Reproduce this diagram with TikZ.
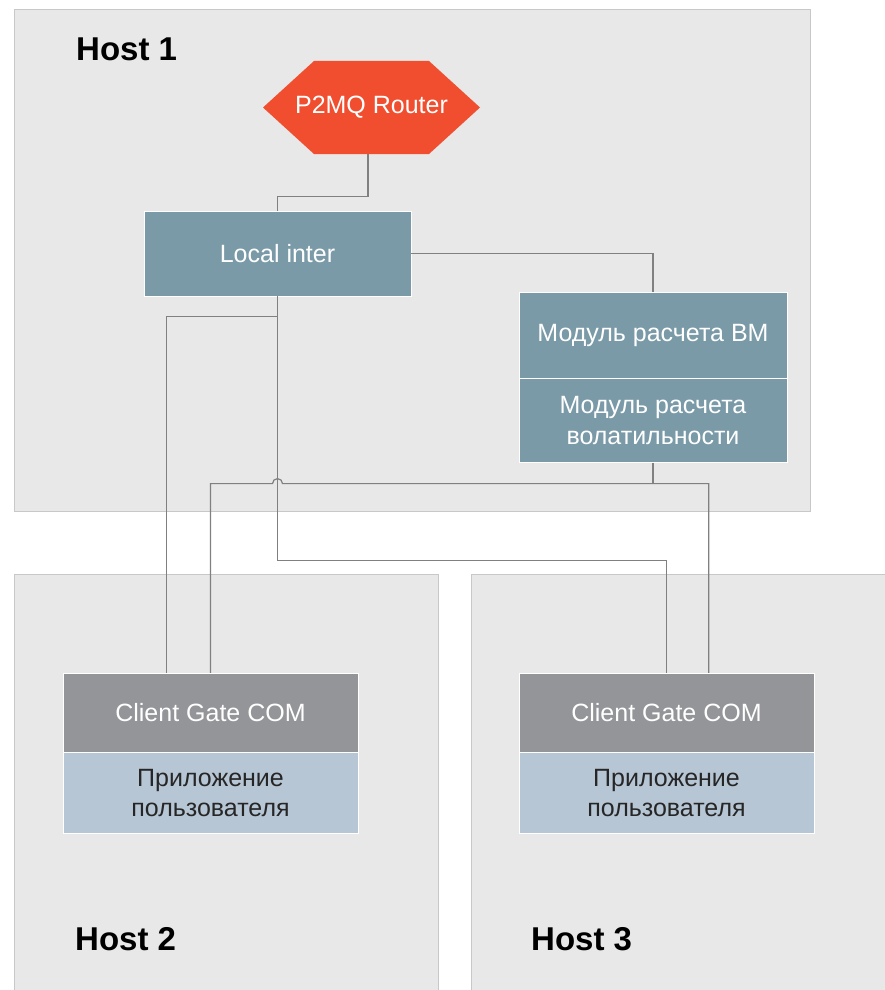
\documentclass[tikz,border=0pt]{standalone}
\usepackage{fontspec}
\setmainfont{Liberation Sans}
\usetikzlibrary{positioning}

\definecolor{hostfill}{HTML}{E8E8E8}
\definecolor{hostedge}{HTML}{C8C8C8}
\definecolor{modblue}{HTML}{7A9AA8}
\definecolor{gategray}{HTML}{939598}
\definecolor{appblue}{HTML}{B7C6D5}
\definecolor{routerred}{HTML}{F04E2E}
\definecolor{linegray}{HTML}{808080}

\begin{document}
\begin{tikzpicture}[x=1pt, y=1pt,
  host/.style = {draw=hostedge, fill=hostfill, anchor=north west, inner sep=0pt},
  hostlabel/.style = {anchor=base west, inner sep=0pt, font=\bfseries\fontsize{33}{40}\selectfont},
  block/.style = {draw=white, fill=modblue, text=white, align=center, inner sep=0pt, font=\fontsize{25}{31}\selectfont},
  gateblock/.style = {block, fill=gategray, minimum width=295pt, minimum height=79pt},
  appblock/.style = {block, fill=appblue, text=black!85, minimum width=295pt, minimum height=81pt, font=\fontsize{25}{30}\selectfont},
  router/.style = {fill=hostfill, text=white, inner sep=0pt, minimum width=217pt, minimum height=93pt, font=\fontsize{25}{31}\selectfont,
    path picture={\fill[routerred] ([xshift=51pt]path picture bounding box.north west) -- ([xshift=-51pt]path picture bounding box.north east)
      -- (path picture bounding box.east) -- ([xshift=-51pt]path picture bounding box.south east)
      -- ([xshift=51pt]path picture bounding box.south west) -- (path picture bounding box.west) -- cycle;}},
  link/.style = {draw=linegray, line width=1.2pt}]

    \useasboundingbox (0,0) rectangle (884,-990);

    % hosts
    \node[host, minimum width=796pt, minimum height=502pt] (host1) at (14,-9) {};
    \node[host, minimum width=424pt, minimum height=430pt] (host2) at (14,-574) {};
    \node[host, minimum width=430pt, minimum height=430pt] (host3) at (471,-574) {};
    \node[hostlabel] (h1) at (76,-61) {Host 1};
    \node[hostlabel] (h2) at (75,-950) {Host 2};
    \node[hostlabel] (h3) at (531,-950) {Host 3};

    % host 1
    \node[router] (router) at (371.5,-107.5) {P2MQ Router};
    \node[block, minimum width=267pt, minimum height=85pt] (local) at (277.5,-253.5) {Local inter};
    \node[block, minimum width=268pt, minimum height=86pt] (modvm) at (653,-335) {Модуль расчета ВМ};
    \node[block, minimum width=268pt, minimum height=84pt, below=0pt of modvm] (modvol) {Модуль расчета\\волатильности};

    % hosts 2 and 3
    \node[gateblock] (gate2) at (210.5,-712.5) {Client Gate COM};
    \node[appblock, below=0pt of gate2] (app2) {Приложение\\пользователя};
    \node[gateblock] (gate3) at (666.5,-712.5) {Client Gate COM};
    \node[appblock, below=0pt of gate3] (app3) {Приложение\\пользователя};

    % links
    \draw[link] ([xshift=-3.5pt]router.south) -- ++(0,-42) -| (local.north);
    \draw[link] (local.east) -| (modvm.north);
    \draw[link] (local.south) -- ++(0,-20) -| ([xshift=104pt]gate2.north west);
    \draw[link] (local.south) -- ++(0,-264) -| (gate3.north);
    \draw[link] (modvol.south) -- ++(0,-21) coordinate (bus);
    \draw[link] ([xshift=190pt]gate3.north west) |- (bus) -- ([xshift=5pt]local.south |- bus)
      arc[start angle=0, end angle=180, radius=5] -| (gate2.north);

\end{tikzpicture}
\end{document}
